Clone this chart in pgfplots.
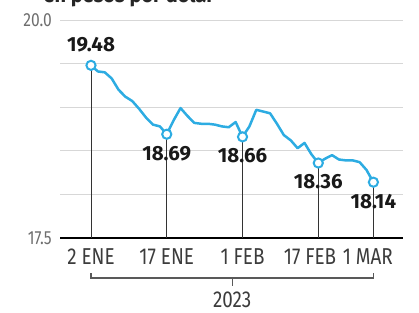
\documentclass[border=0pt]{standalone}
\usepackage{pgfplots}
\pgfplotsset{compat=1.18}
\usepackage{pgfplotstable}
\usepackage{fontspec}
\setmainfont{Fira Sans}
\newfontfamily\condfont[FakeStretch=0.82]{Fira Sans}
\definecolor{lineblue}{RGB}{45,172,226}
\definecolor{gridgray}{RGB}{215,215,215}
\definecolor{ticktext}{RGB}{60,60,60}
\definecolor{ytext}{RGB}{110,110,110}

\pgfplotstableread{
x y
0 19.48
1 19.41
2 19.40
3 19.33
4 19.20
5 19.12
6 19.07
7 18.98
8 18.88
9 18.80
10 18.78
11 18.69
12 18.85
13 18.99
14 18.90
15 18.82
16 18.81
17 18.81
18 18.80
19 18.78
20 18.77
21 18.83
22 18.66
23 18.78
24 18.97
25 18.95
26 18.93
27 18.81
28 18.68
29 18.62
30 18.53
31 18.59
32 18.46
33 18.36
34 18.41
35 18.45
36 18.40
37 18.39
38 18.39
39 18.37
40 18.28
41 18.14
}\fxdata

\pgfplotstableread{
x y lab
0 19.48 19.48
}\toppoint

\pgfplotstableread{
x y lab
11 18.69 18.69
22 18.66 18.66
33 18.36 18.36
41 18.14 18.14
}\lowpoints

\begin{document}
\begin{tikzpicture}
\useasboundingbox (-60bp,-75bp) rectangle (359bp,238bp);
\begin{axis}[
  scale only axis,
  width=343bp, height=218bp,
  xmin=-4.5, xmax=45.3,
  ymin=17.5, ymax=20,
  axis line style={draw=none},
  tick style={draw=none},
  major tick length=0pt,
  ytick={18,18.5,19,19.5,20},
  yticklabels={,,,,20.0},
  extra y ticks={17.5},
  extra y tick labels={17.5},
  extra y tick style={grid style={black, line width=1.8bp}},
  ymajorgrids,
  grid style={gridgray, line width=0.9bp},
  xtick={0,11,22,31.8,40.2},
  xticklabels={2 ENE,17 ENE,1 FEB,17 FEB,1 MAR},
  xticklabel style={font=\condfont\fontsize{23bp}{26bp}\selectfont, text=ticktext, inner sep=0pt, anchor=north, yshift=-10bp},
  yticklabel style={font=\condfont\fontsize{19bp}{22bp}\selectfont, text=ytext, inner sep=0pt, anchor=east, xshift=-8bp},
  /pgf/number format/assume math mode=true,
  clip mode=individual,
]
% drop lines
\addplot[ycomb, draw=black!80, line width=0.8bp, mark=none] table[x=x,y=y] {\toppoint};
\addplot[ycomb, draw=black!80, line width=0.8bp, mark=none] table[x=x,y=y] {\lowpoints};
% main line
\addplot[lineblue, line width=2.5bp, mark=none, line join=round] table[x=x,y=y] {\fxdata};
% markers with labels
\addplot[only marks, mark=*, mark size=4.6bp, mark options={fill=white, draw=lineblue, line width=2bp},
  point meta=explicit symbolic,
  nodes near coords,
  every node near coord/.append style={anchor=center, yshift=21bp, font=\bfseries\fontsize{20.5bp}{22bp}\selectfont, text=black!90}]
  table[x=x,y=y,meta=lab] {\toppoint};
\addplot[only marks, mark=*, mark size=4.6bp, mark options={fill=white, draw=lineblue, line width=2bp},
  point meta=explicit symbolic,
  nodes near coords,
  every node near coord/.append style={anchor=center, yshift=-19bp, font=\bfseries\fontsize{20.5bp}{22bp}\selectfont, text=black!90}]
  table[x=x,y=y,meta=lab] {\lowpoints};
% bracket
\draw[black!65, line width=1.1bp]
  ([yshift=-35bp]axis cs:0,17.5) -- ([yshift=-40bp]axis cs:0,17.5)
  -- ([yshift=-40bp]axis cs:41,17.5) -- ([yshift=-35bp]axis cs:41,17.5);
\draw[black!65, line width=1.1bp]
  ([yshift=-40bp]axis cs:20.5,17.5) -- ([yshift=-48bp]axis cs:20.5,17.5);
\node[font=\condfont\fontsize{23bp}{26bp}\selectfont, text=ticktext, anchor=center, inner sep=0pt]
  at ([yshift=-61.5bp]axis cs:20.5,17.5) {2023};
\end{axis}
\node[anchor=base west, font=\bfseries\fontsize{20bp}{22bp}\selectfont, text=black!85] at (-20bp,235bp) {en pesos por dólar};
\end{tikzpicture}
\end{document}
